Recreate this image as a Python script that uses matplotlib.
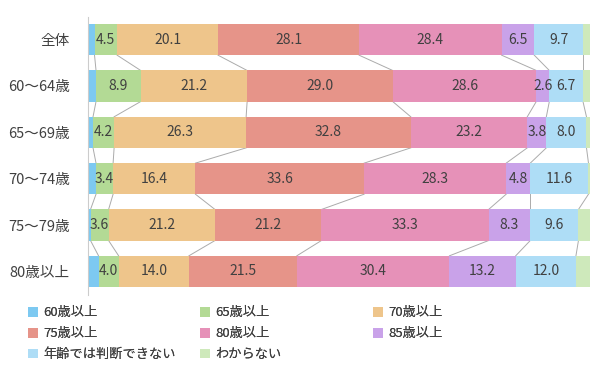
import numpy as np
import matplotlib
matplotlib.use("Agg")
import matplotlib.pyplot as plt

plt.rcParams['font.family'] = ['Noto Sans CJK JP', 'DejaVu Sans']

# ── Data ─────────────────────────────────────────────
rows = ["全体", "60〜64歳", "65〜69歳", "70〜74歳", "75〜79歳", "80歳以上"]
series = ["60歳以上", "65歳以上", "70歳以上", "75歳以上",
          "80歳以上", "85歳以上", "年齢では判断できない", "わからない"]

s60  = [1.3, 1.6, 1.0, 1.6, 0.5, 2.1]
s65  = [4.5, 8.9, 4.2, 3.4, 3.6, 4.0]
s70  = [20.1, 21.2, 26.3, 16.4, 21.2, 14.0]
s75  = [28.1, 29.0, 32.8, 33.6, 21.2, 21.5]
s80  = [28.4, 28.6, 23.2, 28.3, 33.3, 30.4]
s85  = [6.5, 2.6, 3.8, 4.8, 8.3, 13.2]
s_na = [9.7, 6.7, 8.0, 11.6, 9.6, 12.0]
s_dk = [1.4, 1.4, 0.7, 0.3, 2.3, 2.8]

colors = ["#7DC9F1", "#B3DA95", "#EEC58B", "#E69489",
          "#E691B8", "#C9A2E9", "#AEDDF6", "#CEE9BB"]

data = np.array([s60, s65, s70, s75, s80, s85, s_na, s_dk])

fig = plt.figure(figsize=(6.05, 3.72), dpi=100)
ax = fig.add_axes([88 / 605, 1 - 294.5 / 372, 502 / 605, 278 / 372])

y = np.arange(len(rows))
h = 0.67
left = np.zeros(len(rows))
handles = []
for k in range(len(series)):
    b = ax.barh(y, data[k], left=left, height=h, color=colors[k],
                label=series[k], zorder=2)
    handles.append(b)
    if 1 <= k <= 6:
        for i in range(len(rows)):
            ax.text(left[i] + data[k][i] / 2, y[i], f"{data[k][i]:.1f}",
                    ha="center", va="center", fontsize=10, color="#404040",
                    zorder=3)
    left = left + data[k]

# connector lines between bars
cum = np.cumsum(data, axis=0)
for k in range(len(series)):
    for i in range(len(rows) - 1):
        ax.plot([cum[k][i], cum[k][i + 1]], [y[i] + h / 2, y[i + 1] - h / 2],
                color="#ABABAB", linewidth=0.7, zorder=1)

ax.set_xlim(0, 100)
ax.set_ylim(len(rows) - 0.5, -0.5)
ax.set_yticks(y)
ax.set_yticklabels(rows, fontsize=10.5, color="#404040")
ax.tick_params(axis="y", length=0, pad=13)
ax.set_xticks([])
for sp in ["top", "right", "bottom"]:
    ax.spines[sp].set_visible(False)
ax.spines["left"].set_color("#CCCCCC")

# legend: three fixed-position columns, filled row by row
col_x = [16, 188, 361]
for c in range(3):
    idx = list(range(c, len(series), 3))
    leg = fig.legend([handles[j] for j in idx], [series[j] for j in idx],
                     loc="upper left", bbox_to_anchor=(col_x[c] / 605, 1 - 294.5 / 372),
                     frameon=False, fontsize=9.5, handlelength=0.75,
                     handleheight=0.75, handletextpad=0.4, labelspacing=0.6,
                     labelcolor="#404040")
    fig.add_artist(leg)

fig.savefig("out.png", dpi=100)
